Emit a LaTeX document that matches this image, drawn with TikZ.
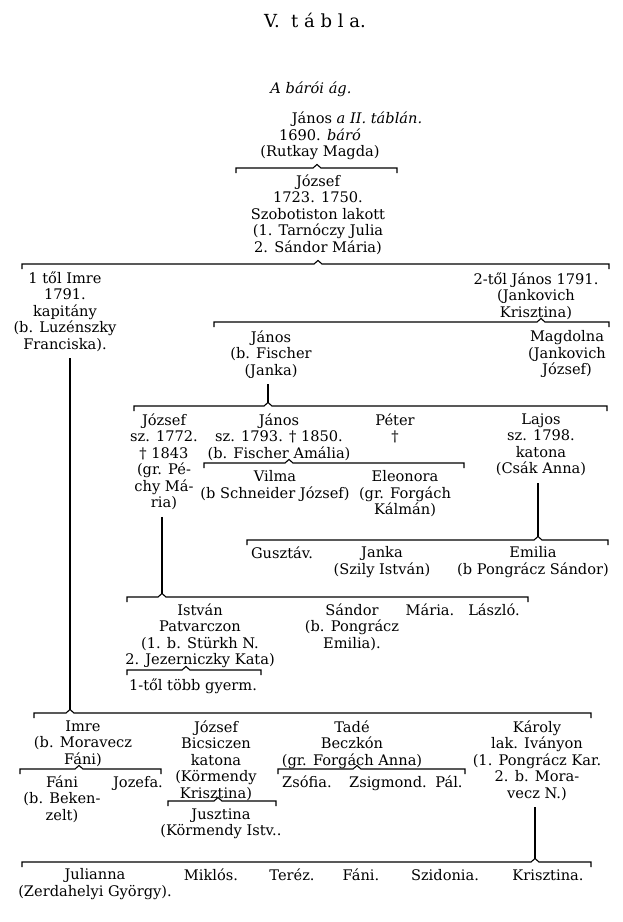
\documentclass[tikz,border=0pt]{standalone}
\usepackage{fontspec}
\setmainfont{DejaVu Serif}
\usetikzlibrary{calc}

\newcommand{\famline}[3]{%
  \draw[brk] let \p1=(#1) in
    (#2,\y1-5pt) -- (#2,\y1) -- (\x1-4pt,\y1) -- (\x1,\y1+3.5pt)
    -- (\x1+4pt,\y1) -- (#3,\y1) -- (#3,\y1-5pt);}

\begin{document}
\begin{tikzpicture}[x=1pt,y=-1pt,
  gen/.style={align=center,inner sep=0pt,anchor=north,yshift=11.55pt,
    font=\fontsize{14.6}{16.5}\selectfont,execute at begin node=\strut},
  brk/.style={line width=1.1pt},
  stem/.style={line width=1.1pt,shorten <=4pt,shorten >=3.5pt}]
\useasboundingbox (0,0) rectangle (622,922);

\node[gen,font=\fontsize{18}{20}\selectfont] (title) at (315,24) {V.\ \ t\ á\ b\ l\ a.};
\node[gen,font=\fontsize{14.6}{16.5}\itshape] (branch) at (311,93) {A bárói ág.};

\node[gen] (janos0n) at (357,123) {János \textit{a II. táblán.}};
\node[gen] (janos0) at (320,140) {1690. \textit{báró}\\(Rutkay Magda)};
\coordinate (b1) at (317,168);
\famline{b1}{236}{397}

\node[gen] (jozsef1) at (318,186) {József\\1723. 1750.\\Szobotiston lakott\\(1. Tarnóczy Julia\\2. Sándor Mária)};
\coordinate (b2) at (318,264);
\famline{b2}{22}{609}

\node[gen] (imre1) at (65,283) {1 től Imre\\1791.\\kapitány\\(b. Luzénszky\\Franciska).};
\node[gen] (janos1) at (536,284) {2-től János 1791.\\(Jankovich\\Krisztina)};
\coordinate (b3) at (541,322);
\famline{b3}{214}{609}

\node[gen] (janos2) at (271,342) {János\\(b. Fischer\\(Janka)};
\node[gen] (magdolna) at (567,342) {Magdolna\\(Jankovich\\József)};
\coordinate (b4) at (268,406);
\famline{b4}{134}{607}
\draw[stem] (janos2.south -| b4) -- (b4);

\node[gen] (jozsef2) at (164,425) {József\\sz. 1772.\\† 1843\\(gr. Pé-\\chy Má-\\ria)};
\node[gen] (janos3) at (279,425) {János\\sz. 1793. † 1850.\\(b. Fischer Amália)};
\node[gen] (peter) at (395,425) {Péter\\†};
\node[gen] (lajos) at (541,425) {Lajos\\sz. 1798.\\katona\\(Csák Anna)};
\coordinate (b5) at (289,463);
\famline{b5}{204}{464}

\node[gen] (vilma) at (275,482) {Vilma\\(b Schneider József)};
\node[gen] (eleonora) at (405,482) {Eleonora\\(gr. Forgách\\Kálmán)};
\coordinate (b6) at (538,540);
\famline{b6}{247}{608}
\draw[stem] (lajos.south -| b6) -- (b6);

\node[gen] (gusztav) at (282,558) {Gusztáv.};
\node[gen] (janka) at (382,558) {Janka\\(Szily István)};
\node[gen] (emilia) at (533,558) {Emilia\\(b Pongrácz Sándor)};
\coordinate (b7) at (162,597);
\famline{b7}{127}{528}
\draw[stem] (jozsef2.south -| b7) -- (b7);

\node[gen] (istvan) at (200,615) {István\\Patvarczon\\(1. b. Stürkh N.\\2. Jezerniczky Kata)};
\node[gen] (sandor) at (352,615) {Sándor\\(b. Pongrácz\\Emilia).};
\node[gen] (maria) at (430,615) {Mária.};
\node[gen] (laszlo) at (494,615) {László.};
\coordinate (b8) at (186,670);
\famline{b8}{127}{261}
\node[gen] (gyerm) at (193,690) {1-től több gyerm.};

\coordinate (b9) at (70,713);
\famline{b9}{34}{591}
\draw[stem] (imre1.south -| b9) -- (b9);

\node[gen] (imre2) at (83,732) {Imre\\(b. Moravecz\\Fáni)};
\node[gen] (jozsef3) at (216,732) {József\\Bicsiczen\\katona\\(Körmendy\\Krisztina)};
\node[gen] (tade) at (352,732) {Tadé\\Beczkón\\(gr. Forgách Anna)};
\node[gen] (karoly) at (537,732) {Károly\\lak. Iványon\\(1. Pongrácz Kar.\\2. b. Mora-\\vecz N.)};

\coordinate (b10) at (79,769);
\famline{b10}{20}{161}
\node[gen] (fani1) at (62,787) {Fáni\\(b. Beken-\\zelt)};
\node[gen] (jozefa) at (138,787) {Jozefa.};

\coordinate (b11) at (218,801);
\famline{b11}{168}{276}
\node[gen] (jusztina) at (221,820) {Jusztina\\(Körmendy Istv..};

\coordinate (b12) at (357,769);
\famline{b12}{278}{465}
\node[gen] (zsofia) at (307,787) {Zsófia.};
\node[gen] (zsigmond) at (388,787) {Zsigmond.};
\node[gen] (pal) at (449,787) {Pál.};

\coordinate (b13) at (535,862);
\famline{b13}{22}{591}
\draw[stem] (karoly.south -| b13) -- (b13);

\node[gen] (julianna) at (95,880) {Julianna\\(Zerdahelyi György).};
\node[gen] (miklos) at (211,880) {Miklós.};
\node[gen] (terez) at (292,880) {Teréz.};
\node[gen] (fani2) at (361,880) {Fáni.};
\node[gen] (szidonia) at (445,880) {Szidonia.};
\node[gen] (krisztina) at (548,880) {Krisztina.};
\end{tikzpicture}
\end{document}
